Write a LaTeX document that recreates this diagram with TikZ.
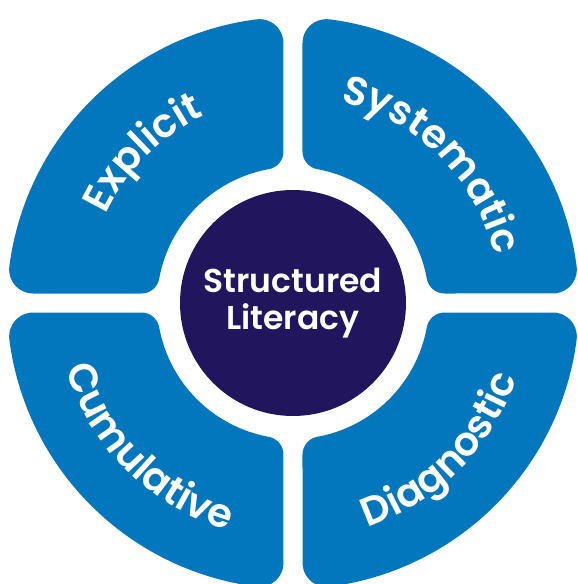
\documentclass[tikz,border=0pt]{standalone}
\usepackage{fontspec}
\usepackage{tikz}
\usetikzlibrary{decorations.text}
\newfontfamily\poppinsbold{Poppins SemiBold}
\newcommand\arcfont{\poppinsbold\fontsize{40}{40}\selectfont}
\definecolor{quadblue}{RGB}{2,119,189}
\definecolor{corenavy}{RGB}{33,22,94}
\tikzset{
  quad/.style={fill=quadblue},
  core/.style={circle, fill=corenavy, minimum size=226pt, inner sep=0pt,
    text=white, align=center, font=\poppinsbold\fontsize{33}{37}\selectfont},
  arclabel/.style={decorate, decoration={text along path, text={|\arcfont|#1},
    text align=center, text color=white}}
}

\begin{document}
\begin{tikzpicture}[x=10pt,y=10pt]
\useasboundingbox (-29.3,-28.1) rectangle (28.5,30.3);
\def\outerR{28.6}
\def\innerR{13.6}
\def\gap{0.95}
\def\ro{2.4}
\def\ri{1.8}
\pgfmathsetmacro\coy{sqrt((\outerR-\ro)^2-(\gap+\ro)^2)}
\pgfmathsetmacro\ciy{sqrt((\innerR+\ri)^2-(\gap+\ri)^2)}
\pgfmathsetmacro\ao{atan2(\coy,\gap+\ro)}
\pgfmathsetmacro\ai{atan2(\ciy,\gap+\ri)}
\foreach \turn in {0,90,180,270}
  \fill[quad, rotate=\turn] (\gap,\ciy) -- (\gap,\coy)
    arc[start angle=180, end angle=\ao, radius=\ro]
    arc[start angle=\ao, end angle=90-\ao, radius=\outerR]
    arc[start angle=90-\ao, end angle=-90, radius=\ro]
    -- (\ciy,\gap)
    arc[start angle=270, end angle=270-\ai, radius=\ri]
    arc[start angle=90-\ai, end angle=\ai, radius=\innerR]
    arc[start angle=180+\ai, end angle=180, radius=\ri]
    -- cycle;
\node[core] (core) at (0,0) {Structured\\Literacy};
\path[arclabel=Explicit] (180:20.7) arc[start angle=180, end angle=90, radius=20.7];
\path[arclabel=Systematic] (90:20.7) arc[start angle=90, end angle=0, radius=20.7];
\path[arclabel=Cumulative] (180:23.6) arc[start angle=180, end angle=270, radius=23.6];
\path[arclabel=Diagnostic] (270:23.6) arc[start angle=270, end angle=360, radius=23.6];
\end{tikzpicture}
\end{document}
